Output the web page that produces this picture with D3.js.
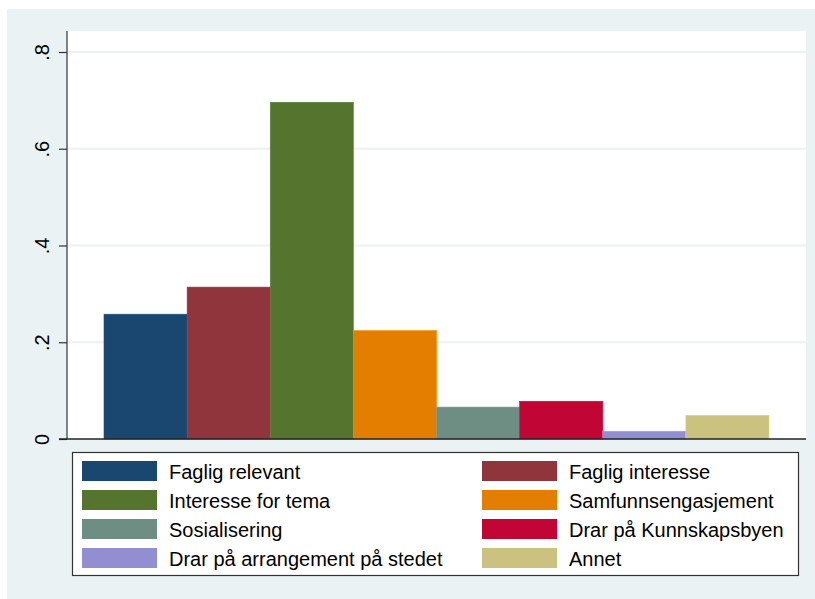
<!DOCTYPE html>
<html>
<head>
<meta charset="utf-8">
<script src="https://cdn.jsdelivr.net/npm/d3@7"></script>
<style>
  html, body { margin: 0; padding: 0; background: #fff; }
  svg { display: block; font-family: "Liberation Sans", Arial, sans-serif; }
</style>
</head>
<body>
<div id="chart"></div>
<script>
const categories = [
  "Faglig relevant",
  "Faglig interesse",
  "Interesse for tema",
  "Samfunnsengasjement",
  "Sosialisering",
  "Drar på Kunnskapsbyen",
  "Drar på arrangement på stedet",
  "Annet"
];
const values = [0.258, 0.314, 0.696, 0.224, 0.066, 0.078, 0.016, 0.049];
const colors = ["#1a476f", "#90353b", "#55752f", "#e37e00", "#6e8e84", "#c10534", "#938dd2", "#cac27e"];
const tickValues = [0, 0.2, 0.4, 0.6, 0.8];
const tickLabels = ["0", ".2", ".4", ".6", ".8"];

const width = 815;
const height = 599;
const plot = { left: 67, right: 806, top: 31, bottom: 439 };
const inset = 37;

const svg = d3.select("#chart")
  .append("svg")
  .attr("width", width)
  .attr("height", height);

// graph region
svg.append("rect")
  .attr("x", 7).attr("y", 9)
  .attr("width", width - 7).attr("height", height - 9)
  .attr("fill", "#eaf2f3");

// plot region
svg.append("rect")
  .attr("x", plot.left).attr("y", plot.top)
  .attr("width", plot.right - plot.left).attr("height", plot.bottom - plot.top)
  .attr("fill", "#fff");

const x = d3.scaleBand()
  .domain(categories)
  .range([plot.left + inset, plot.right - inset])
  .padding(0);

const y = d3.scaleLinear()
  .domain([0, 0.8])
  .range([plot.bottom, 52]);

// gridlines
svg.append("g")
  .selectAll("line")
  .data(tickValues.slice(1))
  .join("line")
  .attr("x1", plot.left)
  .attr("x2", plot.right)
  .attr("y1", (d) => y(d))
  .attr("y2", (d) => y(d))
  .attr("stroke", "#eaf2f3")
  .attr("stroke-width", 2);

// bars
svg.append("g")
  .selectAll("rect")
  .data(values)
  .join("rect")
  .attr("x", (d, i) => x(categories[i]))
  .attr("y", (d) => y(d))
  .attr("width", x.bandwidth())
  .attr("height", (d) => y(0) - y(d))
  .attr("fill", (d, i) => colors[i])
  .attr("stroke", (d, i) => d3.color(colors[i]).brighter(0.25))
  .attr("stroke-width", 0.6);

// y axis
const yAxis = svg.append("g")
  .attr("transform", `translate(${plot.left},0)`)
  .call(d3.axisLeft(y).tickValues(tickValues).tickSize(8).tickFormat((d, i) => tickLabels[i]));
yAxis.select(".domain").attr("d", `M0,${plot.top}V${plot.bottom}`).attr("stroke", "#333").attr("stroke-width", 1.2);
yAxis.selectAll(".tick line").attr("stroke", "#333").attr("stroke-width", 1.2);
yAxis.selectAll(".tick text")
  .attr("x", null).attr("dy", null)
  .attr("transform", "translate(-18,0) rotate(-90)")
  .attr("text-anchor", "middle")
  .attr("font-size", 20)
  .attr("font-family", "Liberation Sans, Arial, sans-serif")
  .attr("fill", "#000");

// x axis line
svg.append("line")
  .attr("x1", plot.left - 8).attr("x2", plot.right)
  .attr("y1", plot.bottom).attr("y2", plot.bottom)
  .attr("stroke", "#222")
  .attr("stroke-width", 1.5);

// legend
const legend = svg.append("g");
legend.append("rect")
  .attr("x", 72.5).attr("y", 452.5)
  .attr("width", 726).attr("height", 123)
  .attr("fill", "#fff")
  .attr("stroke", "#333")
  .attr("stroke-width", 1.2);

const colX = [82, 482];
const items = legend.selectAll("g.item")
  .data(categories)
  .join("g")
  .attr("class", "item")
  .attr("transform", (d, i) => `translate(${colX[i % 2]},${461 + Math.floor(i / 2) * 29})`);

items.append("rect")
  .attr("width", 75)
  .attr("height", 20)
  .attr("fill", (d, i) => colors[i]);

items.append("text")
  .attr("x", 87)
  .attr("y", 17.5)
  .attr("font-size", 20)
  .attr("fill", "#000")
  .text((d) => d);
</script>
</body>
</html>
